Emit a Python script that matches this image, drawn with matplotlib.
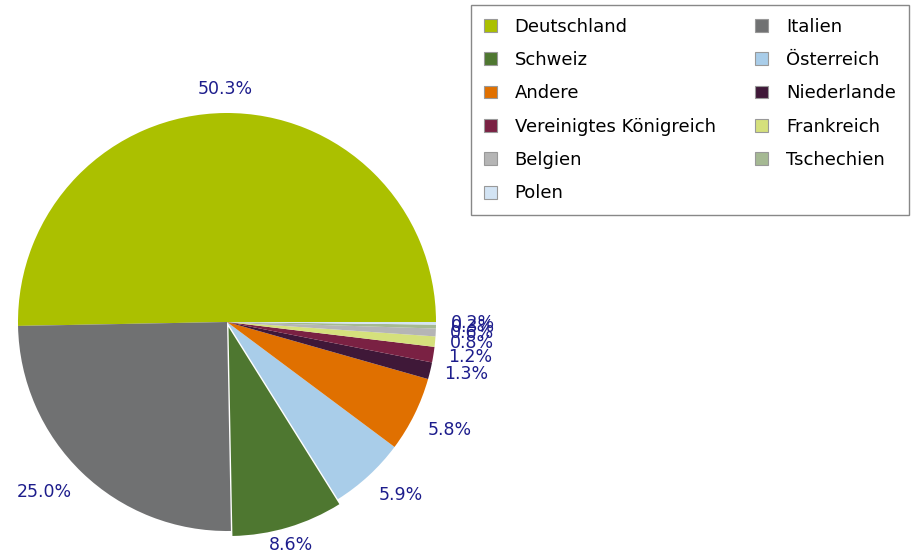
import numpy as np
import matplotlib
matplotlib.use("Agg")
import matplotlib.pyplot as plt
from matplotlib.patches import Patch

countries = ["Deutschland", "Italien", "Schweiz", "Österreich", "Andere",
             "Niederlande", "Vereinigtes Königreich", "Frankreich", "Belgien",
             "Tschechien", "Polen"]
shares = [50.3, 25.0, 8.6, 5.9, 5.8, 1.3, 1.2, 0.8, 0.6, 0.3, 0.2]
colors = ["#abc000", "#707172", "#4e7730", "#a9cde9", "#e07000",
          "#3f1838", "#7a2143", "#d5e07c", "#b5b5b5", "#a5b993", "#d3e4f4"]
explode = [0, 0, 0.025, 0, 0, 0, 0, 0, 0, 0, 0]

W, H = 917, 553
fig = plt.figure(figsize=(W / 100, H / 100), dpi=100)

# pie centre / radius in pixels
cx, cy, R = 227, 322, 209
half = 227
ax = fig.add_axes([(cx - half) / W, (H - cy - half) / H, 2 * half / W, 2 * half / H])
lim = half / R

wedges, _ = ax.pie(shares, colors=colors, explode=explode, startangle=0,
                   counterclock=True, radius=1, frame=True,
                   wedgeprops=dict(linewidth=0))
ax.set_xlim(-lim, lim)
ax.set_ylim(-lim, lim)
ax.set_aspect("equal")
ax.axis("off")

# percentage labels outside the pie
for w, val in zip(wedges, shares):
    ang = np.deg2rad((w.theta1 + w.theta2) / 2)
    c, s = np.cos(ang), np.sin(ang)
    ha = "left" if c > 0.3 else ("right" if c < -0.3 else "center")
    va = "bottom" if s > 0.3 else ("top" if s < -0.3 else "center")
    ax.text(1.07 * c, 1.07 * s, f"{val:.1f}%", ha=ha, va=va,
            fontsize=12.5, color="#1d1d8c", clip_on=False)

# legend filled row by row (matplotlib fills columns first)
order = list(range(0, len(countries), 2)) + list(range(1, len(countries), 2))
handles = [Patch(facecolor=wedges[i].get_facecolor(), edgecolor="#999999",
                 linewidth=0.8) for i in order]
labels = [countries[i] for i in order]
leg = fig.legend(handles, labels, loc="upper left",
                 bbox_to_anchor=(471 / W, 1 - 5 / H), ncol=2, fontsize=13,
                 frameon=True, fancybox=False, framealpha=1, edgecolor="#888888",
                 handlelength=0.72, handleheight=0.72, handletextpad=1.0,
                 labelspacing=0.85, columnspacing=2.2, borderpad=0.7,
                 borderaxespad=0)
leg.get_frame().set_linewidth(1.0)

fig.savefig("out.png", dpi=100)
